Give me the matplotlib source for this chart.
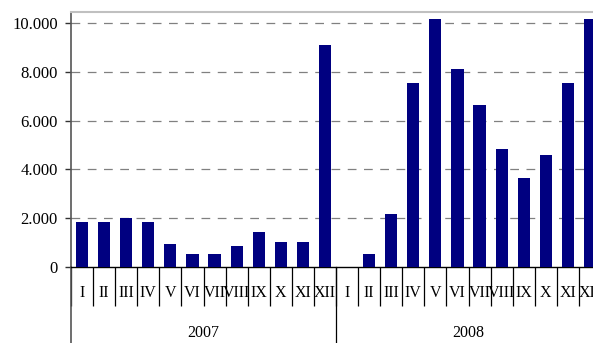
import numpy as np
import matplotlib
matplotlib.use("Agg")
import matplotlib.pyplot as plt
from matplotlib.lines import Line2D

# data
months = ["I", "II", "III", "IV", "V", "VI", "VII", "VIII", "IX", "X", "XI", "XII"]
years = ["2007", "2008"]
values_2007 = [1830, 1830, 2000, 1830, 940, 530, 530, 860, 1430, 1020, 1020, 9100]
values_2008 = [0, 530, 2160, 7540, 10150, 8110, 6640, 4840, 3650, 4590, 7540, 10150]
yticks = [0, 2000, 4000, 6000, 8000, 10000]

plt.rcParams['font.family'] = ['Liberation Serif', 'DejaVu Serif']

values = values_2007 + values_2008
labels = months + months
x = np.arange(len(values))

fig = plt.figure(figsize=(5.93, 3.43), dpi=100)
# axes run a bit past the right edge, as in the cropped original
ax = fig.add_axes([71 / 593, 76 / 343, 530 / 593, 255 / 343])

ax.bar(x, values, width=0.55, color="#000080", zorder=3)

ax.set_xlim(-0.5, len(values) - 0.5)
ax.set_ylim(0, 10450)

# y axis
ax.set_yticks(yticks)
ax.set_yticklabels([f"{v:,}".replace(",", ".") for v in yticks], fontsize=12)
ax.tick_params(axis="y", direction="out", length=4.5, width=1, color="#333333", pad=5)
for v in yticks[1:]:
    ax.axhline(v, color="#808080", lw=0.9, dashes=(7, 6), zorder=1)

# x axis: month labels at centres, separators at boundaries
ax.set_xticks(x)
ax.set_xticklabels(labels, fontsize=11.5)
ax.tick_params(axis="x", which="major", length=0, pad=13)
ax.set_xticks(np.arange(-0.5, len(values), 1), minor=True)
ax.tick_params(axis="x", which="minor", direction="out", length=28, width=0.9, color="black")

ax.spines["right"].set_visible(False)
ax.spines["top"].set_color("#c0c0c0")
ax.spines["top"].set_linewidth(1.5)
ax.spines["bottom"].set_color("black")
ax.spines["bottom"].set_linewidth(1)
ax.spines["left"].set_color("#555555")
ax.spines["left"].set_linewidth(1.2)

# left axis and year divider run down to the bottom
trans = ax.get_xaxis_transform()
ax.add_line(Line2D([-0.5, -0.5], [0, -0.31], transform=trans, color="#555555",
                   lw=1.2, clip_on=False))
ax.add_line(Line2D([11.5, 11.5], [0, -0.31], transform=trans, color="black",
                   lw=0.9, clip_on=False))

for i, yr in enumerate(years):
    ax.text(5.5 + 12 * i, -0.26, yr, transform=trans, ha="center", va="center",
            fontsize=11.5)

fig.savefig("out.png", dpi=100)
